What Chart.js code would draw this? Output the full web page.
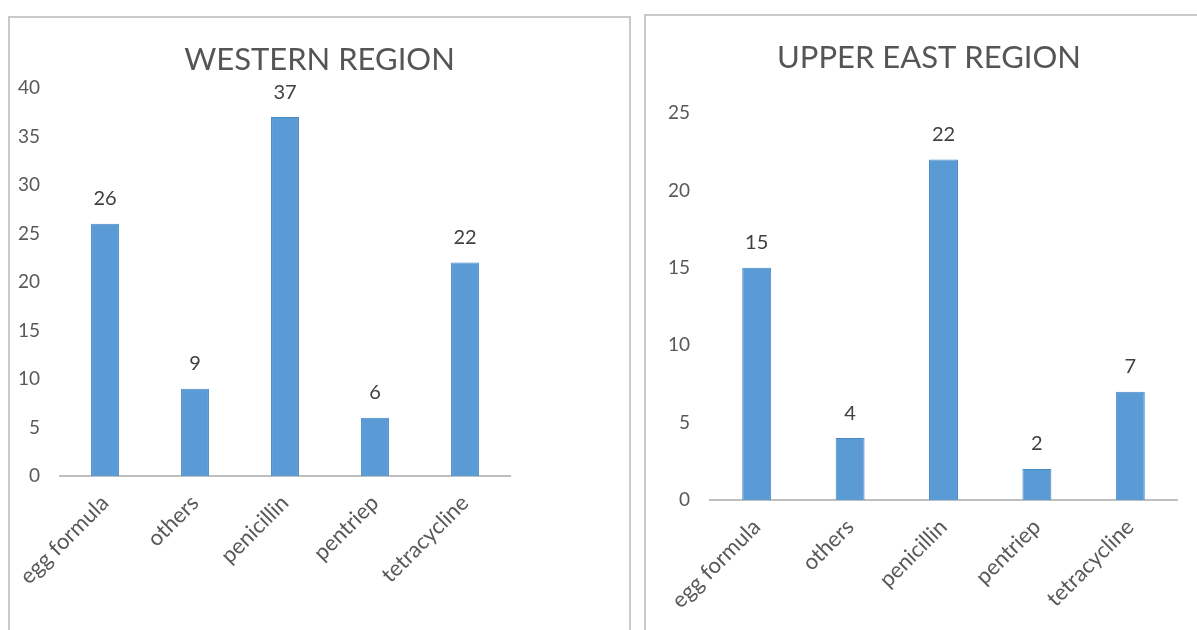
<!DOCTYPE html>
<html>
<head>
<meta charset="utf-8">
<script src="https://cdn.jsdelivr.net/npm/chart.js@4"></script>
<style>
  body { margin: 0; background: #fff; width: 1197px; height: 630px; overflow: hidden; position: relative; }
  .panel { position: absolute; border: 2px solid #c9c9c9; box-sizing: border-box; background: #fff; overflow: hidden; }
  #west-panel { left: 8px; top: 16px; width: 623px; height: 640px; }
  #east-panel { left: 644px; top: 14px; width: 570px; height: 640px; }
  canvas { position: absolute; left: 0; top: 0; }
</style>
</head>
<body>
<div class="panel" id="west-panel"><canvas id="west-chart" width="619" height="612"></canvas></div>
<div class="panel" id="east-panel"><canvas id="east-chart" width="566" height="614"></canvas></div>
<script>
  // Data
  const categories = ["egg formula", "others", "penicillin", "pentriep", "tetracycline"];
  const westernValues = [26, 9, 37, 6, 22];
  const upperEastValues = [15, 4, 22, 2, 7];
  const westernAxisMax = 40;
  const upperEastAxisMax = 25;
  const tickStep = 5;

  const FONT = "Lato, 'Open Sans', sans-serif";

  // Draw the value above each bar
  const valueLabels = {
    id: "valueLabels",
    afterDatasetsDraw(chart) {
      const ctx = chart.ctx;
      const values = chart.data.datasets[0].data;
      ctx.save();
      ctx.font = "20px " + FONT;
      ctx.fillStyle = "#404040";
      ctx.textAlign = "center";
      ctx.textBaseline = "middle";
      chart.getDatasetMeta(0).data.forEach((bar, i) => {
        ctx.fillText(values[i], bar.x, bar.y - 25);
      });
      ctx.restore();
    },
  };

  // Title centred over the whole panel, not just the plot area
  const panelTitle = {
    id: "panelTitle",
    afterDraw(chart, args, opts) {
      const ctx = chart.ctx;
      ctx.save();
      ctx.font = "31px " + FONT;
      ctx.fillStyle = "#555555";
      ctx.textAlign = "center";
      ctx.textBaseline = "middle";
      ctx.fillText(opts.text, chart.width / 2, opts.y);
      ctx.restore();
    },
  };

  // Build one region chart; box = where the plot area should sit inside the canvas
  const createChart = (canvasId, title, values, axisMax, box) => {
    const canvas = document.getElementById(canvasId);
    return new Chart(canvas.getContext("2d"), {
      type: "bar",
      data: {
        labels: categories,
        datasets: [
          {
            data: values,
            backgroundColor: "#5b9bd5",
            borderColor: "#4a89c8",
            borderWidth: 1,
            barPercentage: 0.31,
            categoryPercentage: 1,
          },
        ],
      },
      options: {
        responsive: false,
        animation: false,
        layout: { padding: { left: 0, right: canvas.width - box.right, top: box.top, bottom: 0 } },
        plugins: {
          legend: { display: false },
          tooltip: { enabled: false },
          title: { display: false },
          panelTitle: { text: title, y: box.titleY },
        },
        scales: {
          x: {
            grid: { display: false, drawTicks: false },
            border: { color: "#bfbfbf", width: 2 },
            ticks: {
              color: "#595959",
              font: { family: FONT, size: 22 },
              minRotation: 45,
              maxRotation: 45,
              padding: 14,
            },
            afterFit: (scale) => {
              scale.height = canvas.height - box.bottom;
              scale.paddingLeft = 0;
              scale.paddingRight = 0;
            },
          },
          y: {
            min: 0,
            max: axisMax,
            grid: { display: false, drawTicks: false },
            border: { display: false },
            ticks: {
              stepSize: tickStep,
              color: "#595959",
              font: { family: FONT, size: 19 },
              padding: 20,
            },
            afterFit: (scale) => { scale.width = box.left; },
          },
        },
      },
      plugins: [valueLabels, panelTitle],
    });
  };

  createChart("west-chart", "WESTERN REGION", westernValues, westernAxisMax,
    { left: 50, right: 500, top: 70, bottom: 458, titleY: 42 });
  createChart("east-chart", "UPPER EAST REGION", upperEastValues, upperEastAxisMax,
    { left: 64, right: 531, top: 97, bottom: 484, titleY: 42 });
</script>
</body>
</html>
